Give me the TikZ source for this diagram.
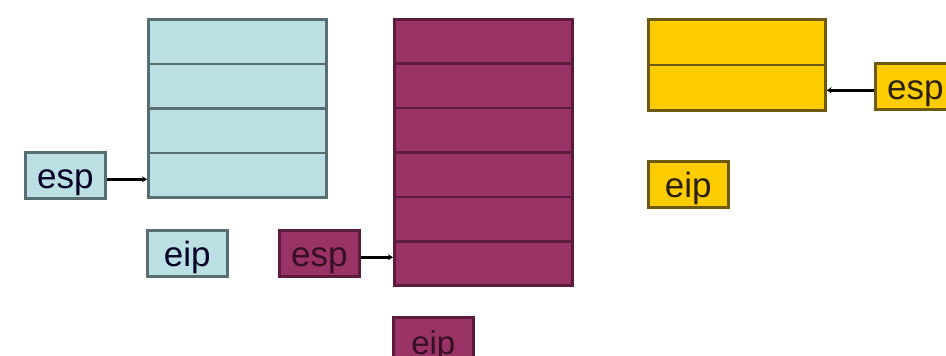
\documentclass[tikz,border=0pt]{standalone}
\usepackage{fontspec}
\setmainfont{Liberation Sans}
\usetikzlibrary{arrows.meta}
\definecolor{lblue}{HTML}{BCDFE3}
\definecolor{bblue}{HTML}{586E70}
\definecolor{lpurp}{HTML}{993366}
\definecolor{bpurp}{HTML}{5C1A3C}
\definecolor{lyel}{HTML}{FFCC00}
\definecolor{byel}{HTML}{6E5A0E}
\definecolor{tyel}{HTML}{2B2000}
\tikzset{
  cellb/.style={draw=bblue,fill=lblue,line width=2.6pt,minimum width=178pt,minimum height=44.5pt,inner sep=0pt,anchor=north west},
  cellp/.style={draw=bpurp,fill=lpurp,line width=2.6pt,minimum width=178pt,minimum height=44.4pt,inner sep=0pt,anchor=north west},
  celly/.style={draw=byel,fill=lyel,line width=2.6pt,minimum width=177pt,minimum height=45.5pt,inner sep=0pt,anchor=north west},
  regbox/.style={line width=2.6pt,minimum width=80pt,minimum height=46pt,inner sep=0pt,anchor=north west,text height=27pt,text depth=0pt,font=\fontsize{35}{35}\selectfont},
  regb/.style={regbox,draw=bblue,fill=lblue,text=black!85!blue},
  regp/.style={regbox,draw=bpurp,fill=lpurp,text=bpurp!60!black},
  regy/.style={regbox,draw=byel,fill=lyel,text=tyel},
  ptr/.style={line width=2.6pt,draw=black,-{Stealth[length=5pt,width=6pt]}}
}
\begin{document}
\begin{tikzpicture}[x=1pt,y=-1pt]
\useasboundingbox (0,0) rectangle (946,356);
\clip (0,0) rectangle (946,356);
% blue stack
\node[cellb] (b1) at (147,18) {};
\node[cellb] (b2) at (147,62.5) {};
\node[cellb] (b3) at (147,107) {};
\node[cellb] (b4) at (147,151.5) {};
\node[regb] (besp) at (24,151) {esp};
\node[regb] (beip) at (146,229) {eip};
\draw[ptr] ([yshift=-4pt]besp.east) -- ([yshift=-4pt]besp.east -| b4.west);
% purple stack
\node[cellp] (p1) at (393,18) {};
\node[cellp] (p2) at (393,62.4) {};
\node[cellp] (p3) at (393,106.8) {};
\node[cellp] (p4) at (393,151.2) {};
\node[cellp] (p5) at (393,195.6) {};
\node[cellp] (p6) at (393,240) {};
\node[regp] (pesp) at (278,229) {esp};
\node[regp,text height=29pt,font=\fontsize{33}{33}\selectfont] (peip) at (392,316) {eip};
\draw[ptr] ([yshift=-4pt]pesp.east) -- ([yshift=-4pt]pesp.east -| p6.west);
% yellow stack
\node[celly] (y1) at (647,18) {};
\node[celly] (y2) at (647,63.5) {};
\node[regy] (yesp) at (874,62) {esp};
\node[regy] (yeip) at (647,160) {eip};
\draw[ptr] ([yshift=-4pt]yesp.west) -- ([yshift=-4pt]yesp.west -| y2.east);
\end{tikzpicture}
\end{document}
